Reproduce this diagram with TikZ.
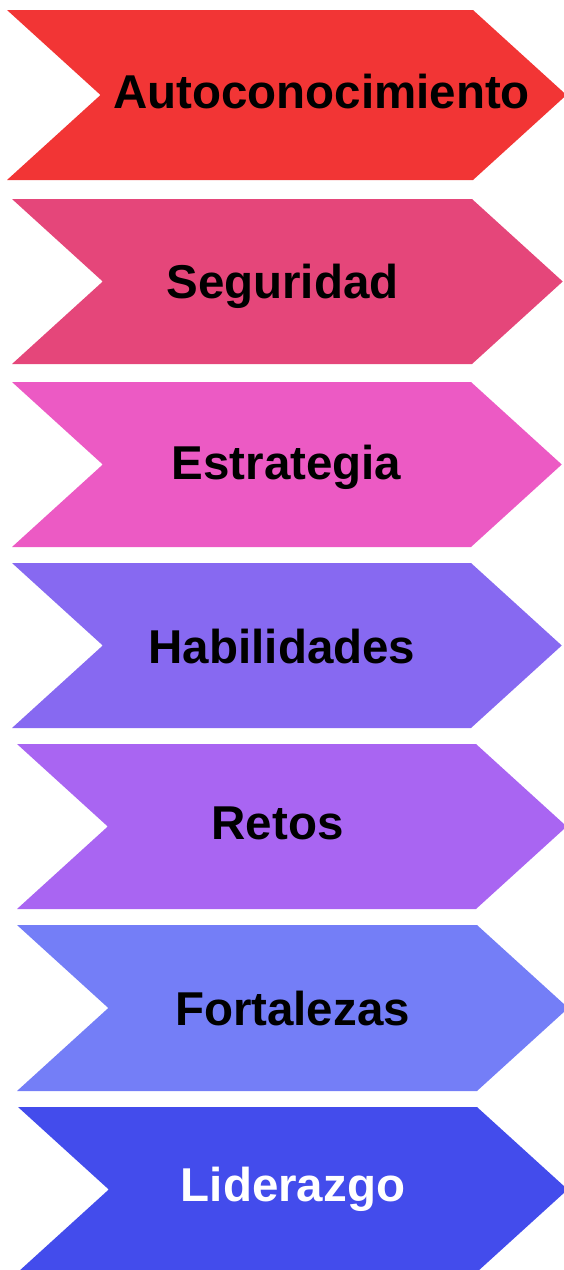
\documentclass[tikz,border=0pt]{standalone}
\usepackage{fontspec}
\setmainfont{Liberation Sans}
\definecolor{cAuto}{HTML}{F23535}
\definecolor{cSeg}{HTML}{E5467A}
\definecolor{cEstr}{HTML}{EC5AC4}
\definecolor{cHab}{HTML}{8769F1}
\definecolor{cRet}{HTML}{A965F2}
\definecolor{cFort}{HTML}{747EF7}
\definecolor{cLid}{HTML}{434CEC}
\tikzset{steplabel/.style={font=\bfseries\fontsize{47.5}{52}\selectfont,anchor=base,inner sep=0pt}}

\begin{document}
\begin{tikzpicture}[x=1pt,y=-1pt]
		\useasboundingbox (0,0) rectangle (564,1270);
		% chevrons: top/bottom/left/right corner/colour
		\foreach \t/\b/\l/\r/\c in {10/180/7/473/cAuto,199/364/12/472/cSeg,382/547/12/471/cEstr,
				563/728/12/471/cHab,744/909/17/476/cRet,925/1091/17/477/cFort,1107/1272/18/477/cLid}{
			\fill[\c] (\l,\t)--(\r,\t)--({\r+0.55*(\b-\t)},{(\t+\b)/2})--(\r,\b)--(\l,\b)
				--({\l+0.55*(\b-\t)},{(\t+\b)/2})--cycle;
		}
		\node[steplabel] (auto) at (321.5,108) {Autoconocimiento};
		\node[steplabel] (seg) at (282.5,298) {Seguridad};
		\node[steplabel] (estr) at (286.5,479) {Estrategia};
		\node[steplabel] (hab) at (282,663) {Habilidades};
		\node[steplabel] (ret) at (277.5,839) {Retos};
		\node[steplabel] (fort) at (292.5,1025) {Fortalezas};
		\node[steplabel,white] (lid) at (293,1201) {Liderazgo};
	\end{tikzpicture}
\end{document}
